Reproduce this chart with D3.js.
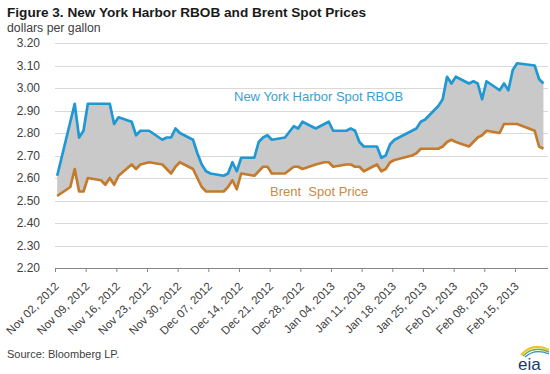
<!DOCTYPE html>
<html>
<head>
<meta charset="utf-8">
<script src="https://cdn.jsdelivr.net/npm/d3@7"></script>
<style>
  body { margin: 0; background: #fff; }
  text { font-family: 'Liberation Sans', Arial, sans-serif; }
</style>
</head>
<body>
<svg id="chart" width="550" height="374"></svg>
<script>
'use strict';

// business days, Bloomberg daily spot prices (dollars per gallon)
const dates = [
  '2012-11-02','2012-11-05','2012-11-06','2012-11-07','2012-11-08','2012-11-09','2012-11-12','2012-11-13','2012-11-14','2012-11-15',
  '2012-11-16','2012-11-19','2012-11-20','2012-11-21','2012-11-23','2012-11-26','2012-11-27','2012-11-28','2012-11-29','2012-11-30',
  '2012-12-03','2012-12-04','2012-12-05','2012-12-06','2012-12-07','2012-12-10','2012-12-11','2012-12-12','2012-12-13','2012-12-14',
  '2012-12-17','2012-12-18','2012-12-19','2012-12-20','2012-12-21','2012-12-24','2012-12-26','2012-12-27','2012-12-28','2012-12-31',
  '2013-01-02','2013-01-03','2013-01-04','2013-01-07','2013-01-08','2013-01-09','2013-01-10','2013-01-11','2013-01-14','2013-01-15',
  '2013-01-16','2013-01-17','2013-01-18','2013-01-22','2013-01-23','2013-01-24','2013-01-25','2013-01-28','2013-01-29','2013-01-30',
  '2013-01-31','2013-02-01','2013-02-04','2013-02-05','2013-02-06','2013-02-07','2013-02-08','2013-02-11','2013-02-12','2013-02-13',
  '2013-02-14','2013-02-15','2013-02-19','2013-02-20','2013-02-21'
];

const rbob = [
  2.61, 2.85, 2.93, 2.78, 2.81, 2.93, 2.93, 2.93, 2.93, 2.84,
  2.87, 2.85, 2.79, 2.81, 2.81, 2.77, 2.78, 2.78, 2.82, 2.80,
  2.77, 2.71, 2.66, 2.63, 2.62, 2.61, 2.62, 2.67, 2.63, 2.69,
  2.69, 2.76, 2.78, 2.79, 2.77, 2.78, 2.83, 2.82, 2.85, 2.82,
  2.84, 2.85, 2.81, 2.81, 2.82, 2.81, 2.76, 2.74, 2.74, 2.69,
  2.70, 2.75, 2.77, 2.81, 2.82, 2.85, 2.86, 2.92, 2.95, 3.05,
  3.02, 3.05, 3.02, 3.03, 3.02, 2.95, 3.03, 2.99, 3.02, 2.99,
  3.08, 3.11, 3.10, 3.04, 3.02
];

const brent = [
  2.52, 2.56, 2.64, 2.54, 2.54, 2.60, 2.59, 2.57, 2.60, 2.57,
  2.61, 2.66, 2.64, 2.66, 2.67, 2.66, 2.64, 2.62, 2.65, 2.67,
  2.64, 2.60, 2.56, 2.54, 2.54, 2.54, 2.56, 2.59, 2.55, 2.62,
  2.61, 2.63, 2.65, 2.65, 2.62, 2.62, 2.65, 2.65, 2.64, 2.66,
  2.67, 2.67, 2.65, 2.66, 2.66, 2.65, 2.65, 2.63, 2.66, 2.63,
  2.64, 2.67, 2.68, 2.70, 2.71, 2.73, 2.73, 2.73, 2.74, 2.76,
  2.77, 2.76, 2.74, 2.76, 2.78, 2.79, 2.81, 2.80, 2.84, 2.84,
  2.84, 2.84, 2.81, 2.74, 2.73
];

const y_ticks = [2.2, 2.3, 2.4, 2.5, 2.6, 2.7, 2.8, 2.9, 3.0, 3.1, 3.2];

const x_tick_labels = [
  'Nov 02, 2012', 'Nov 09, 2012', 'Nov 16, 2012', 'Nov 23, 2012', 'Nov 30, 2012', 'Dec 07, 2012',
  'Dec 14, 2012', 'Dec 21, 2012', 'Dec 28, 2012', 'Jan 04, 2013', 'Jan 11, 2013', 'Jan 18, 2013',
  'Jan 25, 2013', 'Feb 01, 2013', 'Feb 08, 2013', 'Feb 15, 2013'
];

const parse_day = d3.timeParse('%Y-%m-%d');
const parse_label = d3.timeParse('%b %d, %Y');
const half_day = 12 * 3600 * 1000;

const data = dates.map((d, i) => ({
  date: new Date(parse_day(d).getTime() + half_day),
  rbob: rbob[i],
  brent: brent[i]
}));

const svg = d3.select('#chart');

const plot_left = 55;
const plot_right = 550;
const plot_top = 43;
const plot_bottom = 268;

const x = d3.scaleTime()
  .domain([parse_day('2012-11-02'), parse_day('2013-02-23')])
  .range([plot_left, plot_right]);

const y = d3.scaleLinear()
  .domain([2.2, 3.2])
  .range([plot_bottom, plot_top]);

// GRID
svg.append('g')
  .selectAll('line')
  .data(y_ticks.slice(1))
  .enter()
  .append('line')
  .attr('x1', plot_left)
  .attr('x2', plot_right - 2)
  .attr('y1', d => Math.round(y(d)) + 0.5)
  .attr('y2', d => Math.round(y(d)) + 0.5)
  .attr('stroke', '#d9d9d9')
  .attr('stroke-width', 1);

svg.append('g')
  .selectAll('text')
  .data(y_ticks)
  .enter()
  .append('text')
  .attr('x', 40)
  .attr('y', d => y(d) + 4)
  .attr('text-anchor', 'end')
  .attr('font-size', 12)
  .attr('fill', '#404040')
  .text(d => d.toFixed(2));

// X AXIS
const tick_dates = x_tick_labels.map(s => parse_label(s));
const x_axis = svg.append('g')
  .attr('transform', `translate(0,${plot_bottom})`)
  .call(d3.axisBottom(x)
    .tickValues(tick_dates)
    .tickSize(4)
    .tickSizeOuter(0)
    .tickFormat((d, i) => x_tick_labels[i]));

x_axis.select('.domain')
  .attr('stroke', '#868686')
  .attr('d', `M${plot_left},0.5H${plot_right - 2}`);
x_axis.selectAll('.tick line').attr('stroke', '#868686');
x_axis.selectAll('.tick text')
  .attr('font-family', "'Liberation Sans', Arial, sans-serif")
  .attr('font-size', 11.5)
  .attr('fill', '#404040')
  .attr('text-anchor', 'end')
  .attr('dy', null)
  .attr('y', null)
  .attr('transform', 'translate(4,19) rotate(-45)');

// AREA BETWEEN SERIES
svg.append('path')
  .datum(data)
  .attr('fill', '#c9c9c9')
  .attr('d', d3.area()
    .x(d => x(d.date))
    .y0(d => y(d.brent))
    .y1(d => y(d.rbob)));

svg.append('path')
  .datum(data)
  .attr('fill', 'none')
  .attr('stroke', '#c47b2d')
  .attr('stroke-width', 2.7)
  .attr('stroke-linejoin', 'round')
  .attr('d', d3.line().x(d => x(d.date)).y(d => y(d.brent)));

svg.append('path')
  .datum(data)
  .attr('fill', 'none')
  .attr('stroke', '#1f98d4')
  .attr('stroke-width', 2.7)
  .attr('stroke-linejoin', 'round')
  .attr('d', d3.line().x(d => x(d.date)).y(d => y(d.rbob)));

// LABELS
svg.append('text')
  .attr('x', 234)
  .attr('y', 101)
  .attr('font-size', 13)
  .attr('fill', '#3a9fd2')
  .text('New York Harbor Spot RBOB');

svg.append('text')
  .attr('x', 270)
  .attr('y', 196)
  .attr('font-size', 13)
  .attr('fill', '#c98a45')
  .style('white-space', 'pre')
  .text('Brent  Spot Price');

svg.append('text')
  .attr('x', 7)
  .attr('y', 17)
  .attr('font-size', 13.6)
  .attr('font-weight', 'bold')
  .attr('fill', '#1a1a1a')
  .text('Figure 3. New York Harbor RBOB and Brent Spot Prices');

svg.append('text')
  .attr('x', 7)
  .attr('y', 32)
  .attr('font-size', 12.3)
  .attr('fill', '#404040')
  .text('dollars per gallon');

svg.append('text')
  .attr('x', 7)
  .attr('y', 358)
  .attr('font-size', 11)
  .attr('fill', '#404040')
  .text('Source: Bloomberg LP.');

// eia mark
const logo = svg.append('g').attr('transform', 'translate(517,344)');
logo.append('path')
  .attr('d', 'M4,11 Q16,-2 32,6')
  .attr('fill', 'none')
  .attr('stroke', '#f2c22e')
  .attr('stroke-width', 2.2);
logo.append('path')
  .attr('d', 'M6,12 Q17,1 32,8')
  .attr('fill', 'none')
  .attr('stroke', '#6ab04c')
  .attr('stroke-width', 1.6);
logo.append('path')
  .attr('d', 'M8,13 Q18,4 32,10')
  .attr('fill', 'none')
  .attr('stroke', '#2a8fd0')
  .attr('stroke-width', 1.3);
logo.append('text')
  .attr('x', 1)
  .attr('y', 26)
  .attr('font-family', "'DejaVu Serif', 'Liberation Serif', serif")
  .attr('font-size', 17)
  .attr('fill', '#1b3a6b')
  .text('eia');
</script>
</body>
</html>
